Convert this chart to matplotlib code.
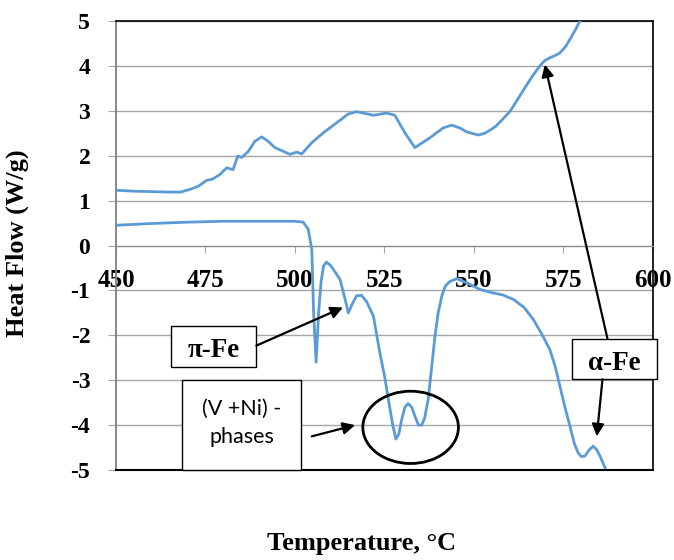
import matplotlib
matplotlib.use("Agg")
import matplotlib.pyplot as plt
from matplotlib.patches import Rectangle, Ellipse

# upper DSC trace (heating)
up_temp = [450, 455, 460, 465, 468, 470.7, 473, 475.3, 477, 479, 480.9, 482.7, 484, 485.1,
           487, 488.8, 490.7, 492.5, 494.4, 496.7, 498.6, 500.5, 501.9, 504.7, 507.9, 511.6,
           514.9, 517.2, 521.9, 525.6, 527.9, 530.7, 533.5, 537.7, 541.4, 543.8, 546, 548,
           551.2, 553, 554.5, 556, 557.5, 560.1, 562, 564.2, 566.3, 568.4, 569.8, 571.2,
           572.6, 574, 575.5, 576.8, 578.3, 579.6]
up_flow = [1.23, 1.21, 1.20, 1.19, 1.19, 1.25, 1.32, 1.45, 1.48, 1.58, 1.73, 1.69, 1.99, 1.96,
           2.10, 2.32, 2.42, 2.32, 2.18, 2.10, 2.03, 2.08, 2.04, 2.29, 2.51, 2.73,
           2.93, 2.98, 2.90, 2.95, 2.90, 2.51, 2.18, 2.40, 2.62, 2.68, 2.62, 2.53,
           2.46, 2.50, 2.57, 2.65, 2.77, 2.99, 3.23, 3.51, 3.77, 4.00, 4.12, 4.18,
           4.23, 4.29, 4.42, 4.59, 4.80, 5.00]

# lower DSC trace
lo_temp = [450, 460, 470, 480, 490, 500, 502.3, 503.7, 504.7, 505.2, 505.9, 506.6, 507.3, 508.0,
           508.8, 510, 511.3, 512.6, 514, 514.9, 516, 517.2, 518.6, 520, 521.9, 523.7, 525,
           526.1, 527.3, 528.2, 529, 529.8, 530.7, 531.6, 532.6, 533.5, 534.5, 535.4, 536.2,
           537.2, 538.2, 539.1, 540, 541, 542, 543.3, 545.2, 548, 551.7, 555, 558, 561, 564,
           566.6, 569, 571.2, 572.7, 574, 575.4, 576.8, 578, 579.1, 580, 581, 582.2, 583.3,
           584.3, 585.2, 586.9]
lo_flow = [0.45, 0.49, 0.52, 0.54, 0.54, 0.54, 0.52, 0.36, -0.09, -1.5, -2.6, -1.5, -0.8, -0.45,
           -0.37, -0.45, -0.6, -0.76, -1.2, -1.5, -1.3, -1.12, -1.11, -1.25, -1.57, -2.39, -2.9,
           -3.43, -4.0, -4.31, -4.2, -3.88, -3.6, -3.52, -3.6, -3.80, -4.0, -4.0, -3.85,
           -3.43, -2.7, -2.02, -1.5, -1.13, -0.9, -0.80, -0.74, -0.83, -0.98, -1.05, -1.10,
           -1.20, -1.38, -1.65, -1.98, -2.32, -2.70, -3.13, -3.60, -4.02, -4.40, -4.62, -4.70,
           -4.69, -4.55, -4.47, -4.55, -4.69, -5.0]

x_ticks = [450, 475, 500, 525, 550, 575, 600]
y_ticks = [5, 4, 3, 2, 1, 0, -1, -2, -3, -4, -5]

BLUE = "#5b9bd5"
SERIF = "Liberation Serif"

plt.rcParams["font.family"] = SERIF
plt.rcParams["font.weight"] = "bold"
plt.rcParams["axes.unicode_minus"] = False

fig = plt.figure(figsize=(6.74, 5.6), dpi=100)
ax = fig.add_axes([0.1721, 0.1607, 0.7967, 0.8018])

ax.plot(up_temp, up_flow, color=BLUE, lw=2.0, solid_joinstyle="round", zorder=3)
ax.plot(lo_temp, lo_flow, color=BLUE, lw=2.0, solid_joinstyle="round", zorder=3)

ax.set_xlim(450, 600)
ax.set_ylim(-5, 5)
ax.set_xticks(x_ticks)
ax.set_yticks(y_ticks)
ax.grid(axis="y", color="#a6a6a6", lw=1.0, zorder=0)

# frame: x axis crosses at 0
ax.spines["bottom"].set_position(("data", 0))
ax.spines["bottom"].set_color("#8c8c8c")
ax.spines["left"].set_color("#7f7f7f")
ax.spines["left"].set_linewidth(1.3)
for s in ("top", "right"):
    ax.spines[s].set_color("black")
    ax.spines[s].set_linewidth(1.2)
ax.axhline(-5, color="black", lw=1.5, clip_on=False, zorder=4)

ax.tick_params(axis="x", direction="out", length=5, color="#a6a6a6", pad=12, labelsize=18)
ax.tick_params(axis="y", direction="out", length=5.5, color="#a6a6a6", pad=13, labelsize=17)

fig.text(0.025, 0.565, "Heat Flow (W/g)", rotation=90, ha="center", va="center",
         fontweight="bold", fontsize=19)
fig.text(0.536, 0.030, "Temperature, \u00b0C", ha="center", va="center",
         fontweight="bold", fontsize=19)

arrow = dict(arrowstyle="-|>", color="black", lw=1.6, mutation_scale=18, shrinkA=0, shrinkB=0)

# pi-Fe label
ax.add_patch(Rectangle((465.5, -2.70), 23.7, 0.90, facecolor="white", edgecolor="black",
                       lw=1.0, zorder=5))
ax.text(477.3, -2.33, "\u03c0-Fe", ha="center", va="center",
        fontweight="bold", fontsize=19.5, zorder=6)
ax.annotate("", xy=(513.4, -1.38), xytext=(489.2, -2.23), arrowprops=arrow, zorder=6)

# (V+Ni) phases label
ax.add_patch(Rectangle((468.3, -5.01), 33.5, 2.02, facecolor="white", edgecolor="black",
                       lw=1.0, zorder=5, clip_on=False))
ax.text(485.2, -3.95, "(V +Ni) -\nphases", ha="center", va="center", fontfamily="Lato",
        fontweight="normal", fontsize=15.5, linespacing=1.5, zorder=6)
ax.annotate("", xy=(516.8, -4.0), xytext=(504.7, -4.25), arrowprops=arrow, zorder=6)
ax.add_patch(Ellipse((532.3, -4.05), 26.7, 1.61, facecolor="none", edgecolor="black",
                     lw=2.0, zorder=6))

# alpha-Fe label
ax.add_patch(Rectangle((577.3, -2.98), 23.7, 0.90, facecolor="white", edgecolor="black",
                       lw=1.0, zorder=5, clip_on=False))
ax.text(589.2, -2.62, "\u03b1-Fe", ha="center", va="center",
        fontweight="bold", fontsize=19.5, zorder=6)
ax.annotate("", xy=(569.8, 4.03), xytext=(587.3, -2.08), arrowprops=arrow, zorder=6)
ax.annotate("", xy=(584.3, -4.25), xytext=(585.9, -2.98), arrowprops=arrow, zorder=6)

fig.savefig("out.png", dpi=100)
